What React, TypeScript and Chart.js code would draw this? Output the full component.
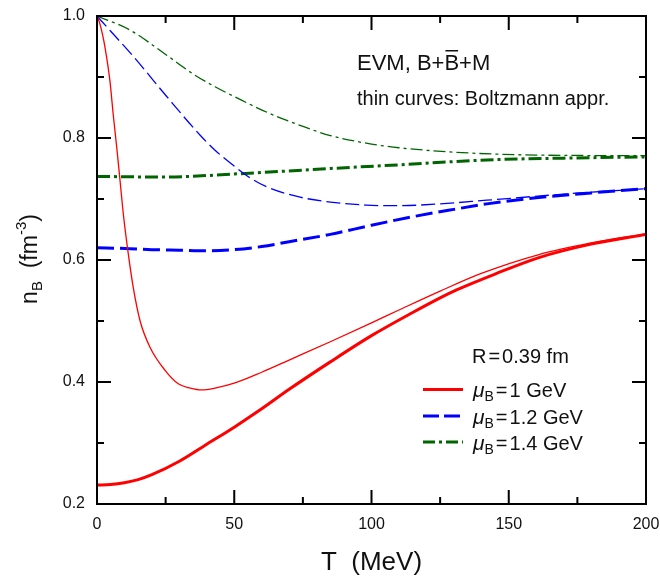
import React, { useEffect, useRef } from 'react';
import { Chart, registerables } from 'chart.js';

Chart.register(...registerables);

// ---- data (T in MeV, n_B in fm^-3) ----
const T_FULL_10 = [0, 5, 10, 15, 20, 30, 40, 50, 60, 70, 85, 100, 115, 125, 131, 145, 161, 180, 200];
const N_FULL_10 = [0.231, 0.232, 0.235, 0.240, 0.248, 0.270, 0.298, 0.326, 0.356, 0.388, 0.433, 0.476, 0.514, 0.538, 0.551, 0.577, 0.604, 0.626, 0.642];

const T_BOLTZ_10 = [0, 1, 2, 2.9, 4.7, 5.9, 7.2, 8.4, 9.6, 11.4, 13.2, 15.7, 19.3, 24.8, 29.6, 34, 38.1, 43, 50, 60, 70, 85, 100, 110, 125, 140, 161, 180, 200];
const N_BOLTZ_10 = [1.0, 0.988, 0.970, 0.949, 0.894, 0.839, 0.784, 0.730, 0.675, 0.610, 0.555, 0.500, 0.457, 0.419, 0.397, 0.390, 0.387, 0.390, 0.398, 0.416, 0.436, 0.466, 0.497, 0.518, 0.549, 0.578, 0.609, 0.628, 0.643];

const T_FULL_12 = [0, 10, 20, 30, 40, 50, 60, 70, 85, 100, 115, 130, 142, 160, 180, 200];
const N_FULL_12 = [0.620, 0.619, 0.617, 0.616, 0.615, 0.617, 0.622, 0.630, 0.642, 0.657, 0.671, 0.683, 0.692, 0.702, 0.710, 0.717];

const T_BOLTZ_12 = [0, 5, 13.2, 25.4, 37.5, 43, 49.7, 55, 61.8, 74, 85, 98, 110, 125, 142, 170, 200];
const N_BOLTZ_12 = [1.0, 0.975, 0.934, 0.868, 0.805, 0.780, 0.755, 0.737, 0.720, 0.703, 0.695, 0.690, 0.689, 0.692, 0.698, 0.708, 0.717];

const T_FULL_14 = [0, 25, 50, 85, 110, 142, 170, 200];
const N_FULL_14 = [0.737, 0.736, 0.741, 0.750, 0.756, 0.764, 0.767, 0.769];

const T_BOLTZ_14 = [0, 12, 25, 35, 43, 50, 62, 75, 85, 100, 110, 133, 160, 200];
const N_BOLTZ_14 = [1.0, 0.977, 0.937, 0.905, 0.884, 0.868, 0.842, 0.819, 0.804, 0.790, 0.784, 0.776, 0.772, 0.771];

const X_TICKS = [0, 50, 100, 150, 200];
const X_MINOR = [25, 75, 125, 175];
const Y_TICKS = [0.2, 0.4, 0.6, 0.8, 1.0];
const Y_MINOR = [0.3, 0.5, 0.7, 0.9];

const MU_LABELS = ['1', '1.2', '1.4'];
const COLORS = ['#ff0000', '#0000ff', '#006400'];
const DASH_THICK = [[], [17, 6], [13, 4, 3, 4]];
const DASH_THIN = [[], [14, 5], [12, 4, 3, 4]];
const DASH_LEGEND = [[], [16, 5], [12, 4, 3, 4]];

const FONT = '"Liberation Sans", Arial, sans-serif';

const pts = (xs: number[], ys: number[]) => xs.map((x, i) => ({ x, y: ys[i] }));

const zeroPad = (s: any) => {
  s.paddingTop = 0;
  s.paddingBottom = 0;
  s.paddingLeft = 0;
  s.paddingRight = 0;
};

const decorPlugin = {
  id: 'decor',
  afterDraw(chart: any) {
    const ctx: CanvasRenderingContext2D = chart.ctx;
    const { left, right, top, bottom } = chart.chartArea;
    const xs = chart.scales.x;
    const ys = chart.scales.y;
    ctx.save();
    ctx.strokeStyle = '#000';
    ctx.lineWidth = 2;
    ctx.lineCap = 'butt';
    ctx.setLineDash([]);
    ctx.strokeRect(left, top, right - left, bottom - top);
    const MAJ = 14, MIN = 7;
    ctx.beginPath();
    const vTick = (v: number, len: number) => {
      const px = xs.getPixelForValue(v);
      ctx.moveTo(px, bottom); ctx.lineTo(px, bottom - len);
      ctx.moveTo(px, top); ctx.lineTo(px, top + len);
    };
    const hTick = (v: number, len: number) => {
      const py = ys.getPixelForValue(v);
      ctx.moveTo(left, py); ctx.lineTo(left + len, py);
      ctx.moveTo(right, py); ctx.lineTo(right - len, py);
    };
    X_TICKS.forEach((v) => vTick(v, MAJ));
    X_MINOR.forEach((v) => vTick(v, MIN));
    Y_TICKS.forEach((v) => hTick(v, MAJ));
    Y_MINOR.forEach((v) => hTick(v, MIN));
    ctx.stroke();

    ctx.fillStyle = '#111';
    ctx.textBaseline = 'alphabetic';
    ctx.textAlign = 'left';

    // annotation: EVM, B+B̄+M
    ctx.font = `22px ${FONT}`;
    let x = 357;
    const y1 = 70;
    const part1 = 'EVM, B+';
    ctx.fillText(part1, x, y1);
    x += ctx.measureText(part1).width;
    const bw = ctx.measureText('B').width;
    ctx.fillText('B', x, y1);
    ctx.fillRect(x + 1, y1 - 20, bw - 2, 1.5);
    x += bw;
    ctx.fillText('+M', x, y1);

    ctx.font = `20px ${FONT}`;
    ctx.fillText('thin curves: Boltzmann appr.', 357, 105);

    // R = 0.39 fm
    ctx.font = `20px ${FONT}`;
    let rx = 472;
    ctx.fillText('R', rx, 363);
    rx += ctx.measureText('R').width + 2;
    ctx.fillText('=', rx, 363);
    rx += ctx.measureText('=').width + 2;
    ctx.fillText('0.39 fm', rx, 363);

    // legend
    const ly = [389.5, 416, 442];
    for (let i = 0; i < 3; i++) {
      ctx.save();
      ctx.strokeStyle = COLORS[i];
      ctx.lineWidth = 3;
      ctx.setLineDash(DASH_LEGEND[i]);
      ctx.beginPath();
      ctx.moveTo(423, ly[i]);
      ctx.lineTo(463, ly[i]);
      ctx.stroke();
      ctx.restore();
      const by = ly[i] + 7.5;
      let tx = 473;
      ctx.font = `italic 21px ${FONT}`;
      ctx.fillText('\u03bc', tx, by);
      tx += ctx.measureText('\u03bc').width;
      ctx.font = `14px ${FONT}`;
      ctx.fillText('B', tx, by + 4);
      tx += ctx.measureText('B').width + 2;
      ctx.font = `20px ${FONT}`;
      ctx.fillText('=', tx, by);
      tx += ctx.measureText('=').width + 2;
      ctx.fillText(MU_LABELS[i] + ' GeV', tx, by);
    }

    // x title
    ctx.font = `26px ${FONT}`;
    ctx.textAlign = 'center';
    ctx.fillText('T  (MeV)', (left + right) / 2, 570);

    // y title (rotated)
    ctx.save();
    ctx.translate(37, 259);
    ctx.rotate(-Math.PI / 2);
    ctx.textAlign = 'left';
    const segs: [string, string, number][] = [
      ['n', `23px ${FONT}`, 0],
      ['B', `15px ${FONT}`, 5],
      ['  (fm', `23px ${FONT}`, 0],
      ['-3', `15px ${FONT}`, -11],
      [')', `23px ${FONT}`, 0],
    ];
    let total = 0;
    segs.forEach(([t, f]) => { ctx.font = f; total += ctx.measureText(t).width; });
    let sx = -total / 2;
    segs.forEach(([t, f, dy]) => {
      ctx.font = f;
      ctx.fillText(t, sx, dy);
      sx += ctx.measureText(t).width;
    });
    ctx.restore();

    ctx.restore();
  },
};

export default function App() {
  const ref = useRef<HTMLCanvasElement | null>(null);
  useEffect(() => {
    if (!ref.current) return;
    const mk = (label: string, xs: number[], ys: number[], i: number, thick: boolean) => ({
      label,
      data: pts(xs, ys),
      borderColor: COLORS[i],
      backgroundColor: COLORS[i],
      borderWidth: thick ? 3 : 1.3,
      borderDash: thick ? DASH_THICK[i] : DASH_THIN[i],
      pointRadius: 0,
      fill: false,
      cubicInterpolationMode: 'monotone' as const,
    });
    const chart = new Chart(ref.current, {
      type: 'line',
      data: {
        datasets: [
          mk('full 1', T_FULL_10, N_FULL_10, 0, true),
          mk('boltz 1', T_BOLTZ_10, N_BOLTZ_10, 0, false),
          mk('full 1.2', T_FULL_12, N_FULL_12, 1, true),
          mk('boltz 1.2', T_BOLTZ_12, N_BOLTZ_12, 1, false),
          mk('full 1.4', T_FULL_14, N_FULL_14, 2, true),
          mk('boltz 1.4', T_BOLTZ_14, N_BOLTZ_14, 2, false),
        ],
      },
      options: {
        animation: false,
        responsive: false,
        devicePixelRatio: 1,
        layout: { padding: { top: 16, right: 14, left: 0, bottom: 0 } },
        plugins: { legend: { display: false }, tooltip: { enabled: false } },
        scales: {
          x: {
            type: 'linear',
            min: 0,
            max: 200,
            afterBuildTicks: (s: any) => { s.ticks = X_TICKS.map((v) => ({ value: v })); },
            afterFit: (s: any) => { s.height = 72; zeroPad(s); },
            ticks: { color: '#111', font: { family: FONT, size: 16 }, padding: 11, maxRotation: 0 },
            grid: { display: false, drawTicks: false },
            border: { display: false },
          },
          y: {
            type: 'linear',
            min: 0.2,
            max: 1.0,
            afterBuildTicks: (s: any) => { s.ticks = Y_TICKS.map((v) => ({ value: v })); },
            afterFit: (s: any) => { s.width = 97; zeroPad(s); },
            ticks: {
              color: '#111',
              font: { family: FONT, size: 16 },
              padding: 12,
              callback: (v: any) => Number(v).toFixed(1),
            },
            grid: { display: false, drawTicks: false },
            border: { display: false },
          },
        },
      },
      plugins: [decorPlugin],
    });
    return () => chart.destroy();
  }, []);
  return (
    <canvas
      ref={ref}
      width={660}
      height={576}
      style={{ position: 'absolute', left: 0, top: 0, width: 660, height: 576, background: '#fff' }}
    />
  );
}
